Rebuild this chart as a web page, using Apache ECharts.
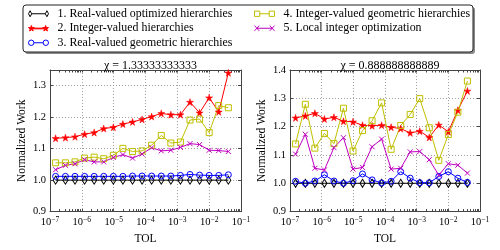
<!DOCTYPE html>
<html><head><meta charset="utf-8">
<script src="https://cdn.jsdelivr.net/npm/echarts@6/dist/echarts.min.js"></script>
<style>html,body{margin:0;padding:0;background:#fff}#c{width:500px;height:250px}</style>
</head><body><div id="c"></div>
<script>
// ---- data ----
const tol = [1.5e-7, 3.05e-7, 6.1e-7, 1.22e-6, 2.44e-6, 4.88e-6, 9.77e-6, 1.95e-5, 3.91e-5, 7.81e-5,
             1.56e-4, 3.13e-4, 6.25e-4, 1.25e-3, 2.5e-3, 5e-3, 1e-2, 2e-2, 4e-2];
const seriesNames = [
  '1. Real-valued optimized hierarchies',
  '2. Integer-valued hierarchies',
  '3. Real-valued geometric hierarchies',
  '4. Integer-valued geometric hierarchies',
  '5. Local integer optimization'
];
const leftTitle = 'χ = 1.33333333333';
const rightTitle = 'χ = 0.888888888889';
const xTickValues = [1e-7, 1e-6, 1e-5, 1e-4, 1e-3, 1e-2, 1e-1];
const leftYTicks = [0.9, 1.0, 1.1, 1.2, 1.3];
const rightYTicks = [0.9, 1.0, 1.1, 1.2, 1.3, 1.4];

// left panel (chi = 1.333)
const L1 = [1.0,1.0,1.0,1.0,1.0,1.0,1.0,1.0,1.0,1.0,1.0,1.0,1.0,1.0,1.0,1.0,1.0,1.0,1.0];
const L2 = [1.133,1.135,1.138,1.146,1.151,1.164,1.168,1.178,1.185,1.193,1.202,1.212,1.208,1.208,1.248,1.214,1.262,1.217,1.341];
const L3 = [1.012,1.012,1.012,1.012,1.012,1.012,1.012,1.012,1.013,1.013,1.013,1.013,1.013,1.015,1.018,1.016,1.015,1.015,1.017];
const L4 = [1.055,1.055,1.058,1.070,1.073,1.068,1.079,1.101,1.091,1.093,1.111,1.142,1.118,1.121,1.191,1.194,1.151,1.237,1.230];
const L5 = [1.033,1.047,1.052,1.065,1.058,1.058,1.072,1.081,1.070,1.083,1.103,1.093,1.095,1.104,1.116,1.113,1.095,1.094,1.091];
// right panel (chi = 0.889)
const R1 = [1.0,1.0,1.0,1.0,1.0,1.0,1.0,1.0,1.0,1.0,1.0,1.0,1.0,1.0,1.0,1.0,1.0,1.0,1.0];
const R2 = [1.231,1.238,1.247,1.227,1.233,1.219,1.217,1.205,1.203,1.205,1.198,1.193,1.178,1.184,1.162,1.206,1.182,1.258,1.326];
const R3 = [1.007,1.0,1.008,1.030,1.008,1.0,1.009,1.033,1.012,1.001,1.007,1.041,1.018,1.002,1.002,1.024,1.041,1.018,1.003];
const R4 = [1.139,1.279,1.124,1.176,1.140,1.265,1.114,1.186,1.221,1.284,1.120,1.204,1.243,1.299,1.196,1.081,1.172,1.251,1.361];
const R5 = [1.103,1.173,1.053,1.047,1.126,1.161,1.050,1.056,1.129,1.156,1.050,1.053,1.111,1.112,1.083,1.029,1.069,1.064,1.036];

// ---- styling ----
const FONT = 'Liberation Serif';
const colors = ['#000000', '#ff0000', '#0000ff', '#bfbf00', '#bf00bf'];
const STAR = 'path://M50,0L61,35L98,35L68,57L79,91L50,70L21,91L32,57L2,35L39,35Z';
const DIAM = 'path://M5,0L9,10L5,20L1,10Z';
const XMARK = 'path://M0,0L10,10M0,10L10,0';
const markers = [
  {symbol: DIAM, symbolSize: [5, 8], itemStyle: {color: 'transparent', borderColor: colors[0], borderWidth: 1}},
  {symbol: STAR, symbolSize: 7, itemStyle: {color: colors[1], borderColor: colors[1], borderWidth: 0.5}},
  {symbol: 'circle', symbolSize: 6, itemStyle: {color: 'transparent', borderColor: colors[2], borderWidth: 1}},
  {symbol: 'rect', symbolSize: 6, itemStyle: {color: 'transparent', borderColor: colors[3], borderWidth: 1}},
  {symbol: XMARK, symbolSize: 5, itemStyle: {color: 'transparent', borderColor: colors[4], borderWidth: 1}}
];

// legend icons: marker — line — marker, in a 20 x 6 box
function f(n) { return (+n).toFixed(2); }
function starAt(cx, cy, r) {
  let s = '';
  for (let k = 0; k < 10; k++) {
    const a = -Math.PI / 2 + k * Math.PI / 5;
    const rr = k % 2 === 0 ? r : r * 0.4;
    s += (k === 0 ? 'M' : 'L') + f(cx + rr * Math.cos(a)) + ',' + f(cy + rr * Math.sin(a));
  }
  return s + 'Z';
}
const legendIcons = [
  'path://M0,3L1.6,0L3.2,3L1.6,6Z M3.2,3L16.8,3 M16.8,3L18.4,0L20,3L18.4,6Z',
  'path://' + starAt(3, 3.2, 3) + 'M5,2.8L15,2.8L15,3.5L5,3.5Z' + starAt(17, 3.2, 3),
  'path://M0.4,3A2.6,2.6,0,1,1,5.6,3A2.6,2.6,0,1,1,0.4,3Z M5.6,3L14.4,3 M14.4,3A2.6,2.6,0,1,1,19.6,3A2.6,2.6,0,1,1,14.4,3Z',
  'path://M0.5,0.5L5.5,0.5L5.5,5.5L0.5,5.5Z M5.5,3L14.5,3 M14.5,0.5L19.5,0.5L19.5,5.5L14.5,5.5Z',
  'path://M0.5,0.5L5,5.5M0.5,5.5L5,0.5 M2.75,3L17.25,3 M15,0.5L19.5,5.5M15,5.5L19.5,0.5'
];

// minor + major tick positions on the log axis
const allTicks = [];
for (let e = -7; e <= -1; e++) {
  for (let k = 1; k <= 9; k++) {
    const v = k * Math.pow(10, e);
    if (v <= 0.1000001) allTicks.push(+v.toPrecision(3));
  }
}

const AXC = '#444';
const GRIDLINE = {show: true, lineStyle: {color: '#888', type: [1, 2], width: 0.8}};

function xAxes(gridIndex) {
  const base = {type: 'log', logBase: 10, min: xTickValues[0], max: xTickValues[xTickValues.length - 1], gridIndex: gridIndex};
  return [
    Object.assign({}, base, {
      position: 'bottom',
      axisLine: {show: true, onZero: false, lineStyle: {color: AXC, width: 1}},
      name: 'TOL', nameLocation: 'middle', nameGap: 17,
      nameTextStyle: {fontFamily: FONT, fontSize: 11.5, color: '#000'},
      axisTick: {show: true, inside: true, length: 2.5, customValues: allTicks, lineStyle: {color: AXC}},
      axisLabel: {
        show: true, margin: 4, color: '#000', fontFamily: FONT,
        formatter: function (v) {
          const e = Math.round(Math.log10(v));
          return '{b|10}{s|' + (e < 0 ? '−' : '') + Math.abs(e) + '}';
        },
        rich: {
          b: {fontFamily: FONT, fontSize: 10.5, color: '#000'},
          s: {fontFamily: FONT, fontSize: 7.5, color: '#000', padding: [0, 0, 6, 0]}
        }
      },
      splitLine: {show: false}
    }),
    Object.assign({}, base, {
      position: 'top',
      axisLine: {show: true, onZero: false, lineStyle: {color: AXC, width: 1}},
      axisTick: {show: true, inside: true, length: 2.5, customValues: allTicks, lineStyle: {color: AXC}},
      axisLabel: {show: false},
      splitLine: {show: false}
    }),
    Object.assign({}, base, {
      position: 'bottom',
      axisLine: {show: false}, axisTick: {show: false}, axisLabel: {show: false},
      splitLine: GRIDLINE
    })
  ];
}

function yAxes(gridIndex, ticks, max) {
  const base = {type: 'value', min: ticks[0], max: max, interval: 0.1, gridIndex: gridIndex,
    axisLine: {show: true, onZero: false, lineStyle: {color: AXC, width: 1}}};
  return [
    Object.assign({}, base, {
      position: 'left',
      name: 'Normalized Work', nameLocation: 'middle', nameGap: 22,
      nameTextStyle: {fontFamily: FONT, fontSize: 11.5, color: '#000'},
      axisTick: {show: true, inside: true, length: 3, lineStyle: {color: AXC}},
      axisLabel: {show: true, margin: 4, color: '#000', fontFamily: FONT, fontSize: 10.5,
                  showMaxLabel: max === ticks[ticks.length - 1], formatter: v => v.toFixed(1)},
      splitLine: GRIDLINE
    }),
    Object.assign({}, base, {
      position: 'right',
      axisTick: {show: true, inside: true, length: 3, lineStyle: {color: AXC}},
      axisLabel: {show: false},
      splitLine: {show: false}
    })
  ];
}

function makeSeries(arrs, xIdx, yIdx) {
  return arrs.map((arr, i) => Object.assign({
    name: seriesNames[i], type: 'line',
    xAxisIndex: xIdx, yAxisIndex: yIdx,
    data: tol.map((t, j) => [t, arr[j]]),
    lineStyle: {color: colors[i], width: 1},
    color: colors[i],
    showAllSymbol: true, animation: false, clip: false
  }, markers[i]));
}

function legendData(from, to) {
  return seriesNames.slice(from, to).map((n, k) => ({
    name: n, icon: legendIcons[from + k],
    itemStyle: {borderWidth: 1, borderColor: colors[from + k]}
  }));
}
const legendCommon = {orient: 'vertical', top: 7.5, padding: 0, itemWidth: 20, itemHeight: 6, itemGap: 2,
  z: 5, symbolKeepAspect: true,
  textStyle: {fontFamily: FONT, fontSize: 11.9, lineHeight: 12.5, color: '#000', padding: [0, 0, 0, 4]}};

const chart = echarts.init(document.getElementById('c'), null, {renderer: 'canvas'});
chart.setOption({
  animation: false,
  backgroundColor: '#fff',
  title: [
    {text: leftTitle, left: 145.5, top: 55, textAlign: 'center',
     textStyle: {fontFamily: FONT, fontSize: 12, fontWeight: 'normal', color: '#000'}},
    {text: rightTitle, left: 385, top: 55, textAlign: 'center',
     textStyle: {fontFamily: FONT, fontSize: 12, fontWeight: 'normal', color: '#000'}}
  ],
  graphic: [
    {type: 'rect', shape: {x: 25, y: 7, width: 450, height: 47, r: 3}, style: {fill: '#8a8a8a'}, z: 0},
    {type: 'rect', shape: {x: 23, y: 5, width: 450, height: 47, r: 3}, style: {fill: '#fff', stroke: '#222', lineWidth: 1}, z: 1}
  ],
  legend: [
    Object.assign({data: legendData(0, 3), left: 28}, legendCommon),
    Object.assign({data: legendData(3, 5), left: 254}, legendCommon)
  ],
  grid: [
    {left: 50, top: 70, width: 191, height: 154, show: false},
    {left: 290, top: 70, width: 190, height: 154, show: false}
  ],
  xAxis: xAxes(0).concat(xAxes(1)),
  yAxis: yAxes(0, leftYTicks, 1.35).concat(yAxes(1, rightYTicks, 1.4)),
  series: makeSeries([L1, L2, L3, L4, L5], 0, 0).concat(makeSeries([R1, R2, R3, R4, R5], 3, 2))
});
</script>
</body></html>
